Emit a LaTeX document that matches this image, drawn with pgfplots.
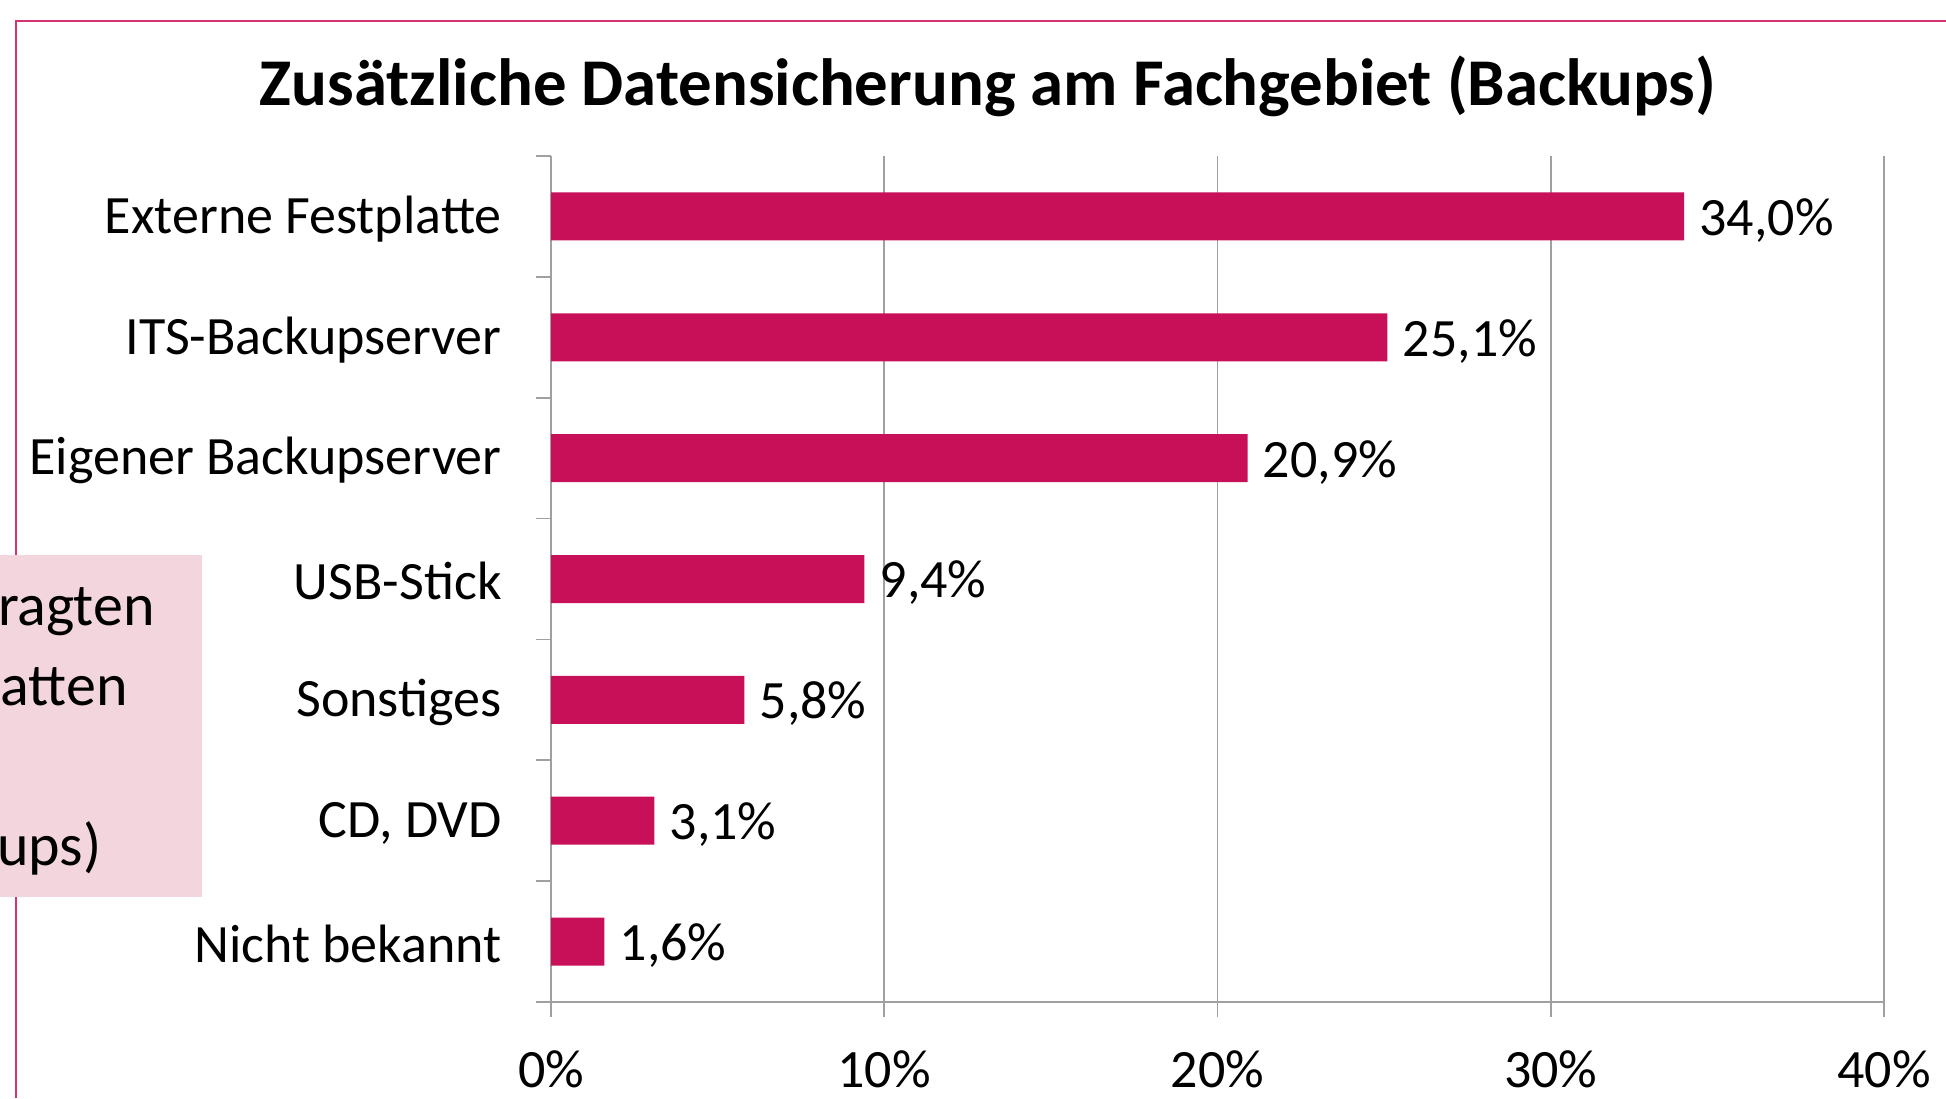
\documentclass[border=0pt]{standalone}
\usepackage{pgfplots}
\pgfplotsset{compat=1.18}
\usepackage{fontspec}
\setmainfont{Carlito}
\definecolor{barc}{RGB}{200,16,88}
\definecolor{boxc}{RGB}{243,214,221}
\definecolor{framec}{RGB}{214,50,115}
\definecolor{gridc}{RGB}{160,160,160}
\pgfplotsset{/pgf/number format/assume math mode=true}
\newcommand{\lblfont}{\fontsize{27}{31}\selectfont}
\begin{document}
\begin{tikzpicture}[x=1pt,y=1pt]
\useasboundingbox (0,0) rectangle (973,549);
\draw[framec, line width=1pt] (8,0) -- (8,538.5) -- (973,538.5);
\begin{scope}
\clip (0,0) rectangle (102,549);
\fill[boxc] (-1,100.5) rectangle (101,271.5);
\node[anchor=base east, inner sep=0pt, font=\fontsize{30}{34}\selectfont] at (77.5,236.5) {ragten};
\node[anchor=base east, inner sep=0pt, font=\fontsize{30}{34}\selectfont] at (64,196.5) {atten};
\node[anchor=base east, inner sep=0pt, font=\fontsize{30}{34}\selectfont] at (51,116.5) {ups)};
\end{scope}
\node[font=\bfseries\fontsize{33.4}{38}\selectfont, inner sep=0pt] at (494,506) {Zusätzliche Datensicherung am Fachgebiet (Backups)};
\begin{axis}[
  at={(275.5pt,48pt)}, anchor=south west,
  scale only axis, width=666.5pt, height=423pt,
  xbar, bar width=24pt,
  xmin=0, xmax=40, ymin=-0.5, ymax=6.5,
  axis lines*=left,
  axis line style={gridc, line width=0.8pt},
  xtick={0,10,20,30,40},
  minor xtick={0,10,20,30,40},
  xticklabel={\pgfmathprintnumber{\tick}\%},
  ytick={0,...,6},
  yticklabels={Nicht bekannt,{CD, DVD},Sonstiges,USB-Stick,Eigener Backupserver,ITS-Backupserver,Externe Festplatte},
  minor ytick={-0.5,0.5,...,6.5},
  major tick length=0pt,
  minor tick length=7.5pt,
  tick align=outside,
  tick style={gridc, line width=0.8pt},
  xmajorgrids,
  major grid style={gridc, line width=0.8pt},
  tick label style={font=\lblfont, inner sep=0pt},
  xticklabel style={anchor=base, yshift=-42.5pt},
  yticklabel style={anchor=east, xshift=-24.5pt, yshift=-1.2pt},
  point meta=x,
  nodes near coords={\pgfmathprintnumber[fixed,fixed zerofill,precision=1,use comma]{\pgfplotspointmeta}\%},
  every node near coord/.append style={anchor=west, inner sep=0pt, xshift=7.5pt, yshift=-2pt, font=\lblfont, black},
  clip=false,
]
\addplot[fill=barc, draw=none] coordinates {(1.6,0) (3.1,1) (5.8,2) (9.4,3) (20.9,4) (25.1,5) (34.0,6)};
\end{axis}
\end{tikzpicture}
\end{document}
